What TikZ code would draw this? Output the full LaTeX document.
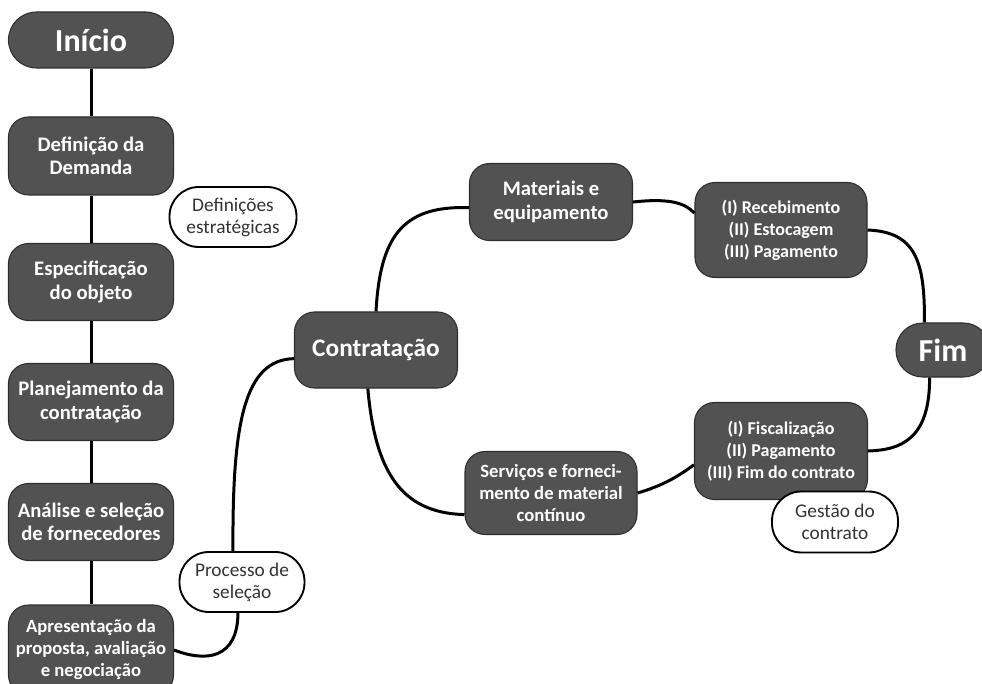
\documentclass[tikz,border=0pt]{standalone}
\usepackage{fontspec}
\setmainfont{Carlito}

\begin{document}
\begin{tikzpicture}[x=0.75pt,y=-0.75pt,
  etapa/.style={draw=black!82,line width=0.8pt,fill=black!68,text=white,
    font=\bfseries\fontsize{15.5}{17.5}\selectfont,align=center,
    rounded corners=15pt,inner sep=0pt},
  nota/.style={draw=black,line width=1.4pt,fill=white,text=black!80,
    font=\fontsize{14.5}{16.5}\selectfont,align=center,
    rounded corners=22pt,inner sep=0pt,minimum height=45pt},
  elo/.style={line width=2.25pt,black}]
  \useasboundingbox (0,0) rectangle (982,684);

  % coluna da esquerda
  \node[etapa,minimum width=123.75pt,minimum height=42pt,rounded corners=21pt,
    font=\bfseries\fontsize{24}{26}\selectfont] (inicio) at (91,40) {Início};
  \node[etapa,minimum width=123.75pt,minimum height=58.5pt] (demanda) at (91,156)
    {Definição da\\Demanda};
  \node[etapa,minimum width=123.75pt,minimum height=57.75pt] (objeto) at (91,282)
    {Especificação\\do objeto};
  \node[etapa,minimum width=123.75pt,minimum height=57.75pt] (planejamento) at (91,402)
    {Planejamento da\\contratação};
  \node[etapa,minimum width=123.75pt,minimum height=57.75pt] (analise) at (91,522)
    {Análise e seleção\\de fornecedores};
  \node[etapa,minimum width=123.75pt,minimum height=67.5pt,
    font=\bfseries\fontsize{14}{16.5}\selectfont] (proposta) at (91,650)
    {Apresentação da\\proposta, avaliação\\e negociação};

  \draw[elo] (inicio) -- (demanda);
  \draw[elo] (demanda) -- (objeto);
  \draw[elo] (objeto) -- (planejamento);
  \draw[elo] (planejamento) -- (analise);
  \draw[elo] (analise) -- (proposta);

  \node[nota,minimum width=95.25pt] (estrategicas) at (233,217)
    {Definições\\estratégicas};

  % contratacao
  \node[etapa,minimum width=122.25pt,minimum height=57pt,
    font=\bfseries\fontsize{19}{21}\selectfont] (contratacao) at (376,350) {Contratação};

  \draw[elo] (proposta.east) .. controls (205,662) and (238,660) .. (238,612);
  \draw[elo] (233,552) .. controls (232,420) and (245,360) .. (contratacao.186);
  \node[nota,minimum width=93.75pt] (selecao) at (242,582) {Processo de\\seleção};

  % ramos
  \node[etapa,minimum width=122.25pt,minimum height=57.75pt] (materiais) at (551,202)
    {Materiais e\\equipamento};
  \node[etapa,minimum width=129pt,minimum height=62.25pt,
    font=\bfseries\fontsize{14}{16.5}\selectfont] (servicos) at (551,493)
    {Serviços e forneci-\\mento de material\\contínuo};
  \node[etapa,minimum width=129pt,minimum height=71.25pt,
    font=\bfseries\fontsize{13.5}{16.5}\selectfont] (recebimento) at (781,230)
    {(I) Recebimento\\(II) Estocagem\\(III) Pagamento};
  \node[etapa,minimum width=129.75pt,minimum height=72.75pt,
    font=\bfseries\fontsize{13.5}{16.5}\selectfont] (fiscalizacao) at (781,451)
    {(I) Fiscalização\\(II) Pagamento\\(III) Fim do contrato};
  \node[etapa,minimum width=70.5pt,minimum height=40.5pt,rounded corners=20pt,
    font=\bfseries\fontsize{24}{26}\selectfont] (fim) at (943,350) {Fim};

  \draw[elo] (contratacao.north) .. controls (380,240) and (400,205) .. (materiais.184);
  \draw[elo] (materiais.east) .. controls (670,198) and (685,203) .. (recebimento.169);
  \draw[elo] (recebimento.east) .. controls (915,232) and (925,260) .. (fim.124);
  \draw[elo] (contratacao.258) .. controls (375,470) and (400,513) .. (servicos.194);
  \draw[elo] (servicos.east) .. controls (665,485) and (680,475) .. (fiscalizacao.189);
  \draw[elo] (fim.244) .. controls (930,440) and (900,450) .. (fiscalizacao.east);

  \node[nota,minimum width=94.5pt,minimum height=45.75pt] (gestao) at (835,522)
    {Gestão do\\contrato};
\end{tikzpicture}
\end{document}
